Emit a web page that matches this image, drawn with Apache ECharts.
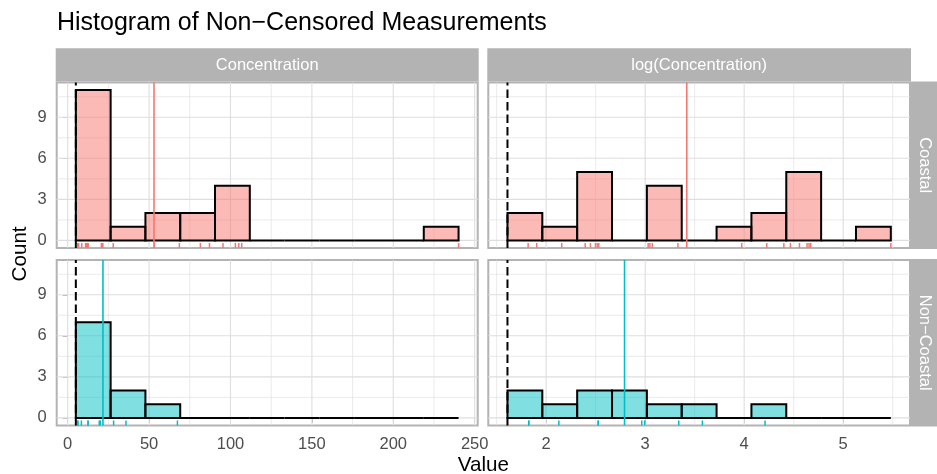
<!DOCTYPE html>
<html>
<head>
<meta charset="utf-8">
<script src="https://cdn.jsdelivr.net/npm/echarts@6/dist/echarts.min.js"></script>
<style>
  html, body { margin: 0; padding: 0; background: #ffffff; }
  #chart { width: 937px; height: 474px; }
</style>
</head>
<body>
<div id="chart"></div>
<script>
// Non-censored concentration measurements by site type
const coastal = [6.16, 6.72, 8.65, 10.96, 11.56, 12.16, 12.38, 12.58, 20.7, 21.07, 21.59, 27.97,
                 53.25, 68.6, 81.5, 87.1, 95.4, 103.0, 105.1, 106.9, 240.1];
const nonCoastal = [6.2, 6.2, 8.4, 12.5, 12.5, 19.4, 20.0, 28.2, 35.8, 67.4];
const detectionLimit = 5;
const binCount = 11;

const groupNames = ['Coastal', 'Non\u2212Coastal'];
const scaleNames = ['Concentration', 'log(Concentration)'];

const rawBreaks = [0, 50, 100, 150, 200, 250];
const rawMinorBreaks = [25, 75, 125, 175, 225];
const logBreaks = [2, 3, 4, 5];
const logMinorBreaks = [1.5, 2.5, 3.5, 4.5, 5.5];
const countBreaks = [0, 3, 6, 9];
const countMinorBreaks = [1.5, 4.5, 7.5, 10.5];

const FONT = '"Liberation Sans", Arial, Helvetica, sans-serif';
const groupColors = ['#F8766D', '#00BFC4'];
const groupFills = ['rgba(248,118,109,0.5)', 'rgba(0,191,196,0.5)'];
const GRID_COLOR = '#DEDEDE';
const FRAME_COLOR = '#B3B3B3';

// Panel layout (two columns of scales, two rows of groups)
const colLeft = [56.7, 488.3];
const colWidth = [421, 421.7];
const rowTop = [82.4, 259.9];
const rowHeight = 165.5;
const stripTop = 48.3;

const measurements = [coastal, nonCoastal];
const transforms = [v => v, v => Math.log(v)];
const majorBreaks = [rawBreaks, logBreaks];
const minorBreaks = [rawMinorBreaks, logMinorBreaks];
const hiRaw = Math.max(...coastal, ...nonCoastal);

function histogram(values, lo, hi) {
  const w = (hi - lo) / binCount;
  const counts = new Array(binCount).fill(0);
  values.forEach(v => {
    let i = Math.ceil((v - lo) / w) - 1;
    if (i < 0) i = 0;
    if (i >= binCount) i = binCount - 1;
    counts[i]++;
  });
  return counts.map((c, i) => [lo + i * w, lo + (i + 1) * w, c]);
}

const mean = arr => arr.reduce((s, v) => s + v, 0) / arr.length;

// Per-column x ranges: detection limit to the largest value, padded by 5%
const colRange = [0, 1].map(c => {
  const lo = transforms[c](detectionLimit);
  const hi = transforms[c](hiRaw);
  const pad = (hi - lo) * 0.05;
  return { lo, hi, min: lo - pad, max: hi + pad };
});

const panels = [];
for (let r = 0; r < 2; r++) {
  for (let c = 0; c < 2; c++) {
    const vals = measurements[r].map(transforms[c]);
    panels.push({
      r, c,
      bins: histogram(vals, colRange[c].lo, colRange[c].hi),
      rug: vals,
      mean: mean(vals),
      limit: transforms[c](detectionLimit)
    });
  }
}
const maxCount = Math.max(...panels.map(p => Math.max(...p.bins.map(b => b[2]))));
const yMin = -0.05 * maxCount;
const yMax = maxCount * 1.05;

const grids = [], xAxes = [], yAxes = [], series = [];

panels.forEach((p, gi) => {
  const { r, c } = p;
  grids.push({
    left: colLeft[c], top: rowTop[r], width: colWidth[c], height: rowHeight,
    show: true, borderColor: FRAME_COLOR, borderWidth: 2, backgroundColor: 'transparent'
  });
  xAxes.push({
    gridIndex: gi, type: 'value', min: colRange[c].min, max: colRange[c].max,
    axisLine: { show: false },
    splitLine: { show: false },
    axisTick: { show: r === 1, customValues: majorBreaks[c], length: 5, lineStyle: { color: FRAME_COLOR, width: 1 } },
    axisLabel: { show: r === 1, customValues: majorBreaks[c], color: '#4D4D4D', fontSize: 16.5, fontFamily: FONT, margin: 11 }
  });
  yAxes.push({
    gridIndex: gi, type: 'value', min: yMin, max: yMax,
    axisLine: { show: false },
    splitLine: { show: false },
    axisTick: { show: c === 0, customValues: countBreaks, length: 5, lineStyle: { color: FRAME_COLOR, width: 1 } },
    axisLabel: { show: c === 0, customValues: countBreaks, color: '#4D4D4D', fontSize: 16.5, fontFamily: FONT, margin: 10 }
  });

  // grid lines: [value, 0 = vertical / 1 = horizontal, 1 = major]
  const gridData = [];
  minorBreaks[c].forEach(v => gridData.push([v, 0, 0]));
  countMinorBreaks.forEach(v => gridData.push([v, 1, 0]));
  majorBreaks[c].forEach(v => gridData.push([v, 0, 1]));
  countBreaks.forEach(v => gridData.push([v, 1, 1]));
  series.push({
    type: 'custom', xAxisIndex: gi, yAxisIndex: gi, silent: true, z: 1,
    data: gridData,
    renderItem(params, api) {
      const cs = params.coordSys;
      const v = api.value(0);
      const horizontal = api.value(1) === 1;
      const major = api.value(2) === 1;
      let shape;
      if (!horizontal) {
        const x = api.coord([v, 0])[0];
        if (x < cs.x || x > cs.x + cs.width) return null;
        shape = { x1: x, y1: cs.y, x2: x, y2: cs.y + cs.height };
      } else {
        const y = api.coord([colRange[c].lo, v])[1];
        shape = { x1: cs.x, y1: y, x2: cs.x + cs.width, y2: y };
      }
      return { type: 'line', shape, style: { stroke: GRID_COLOR, lineWidth: major ? 1.1 : 0.6 } };
    }
  });

  // histogram bars
  series.push({
    type: 'custom', xAxisIndex: gi, yAxisIndex: gi, silent: true, z: 3,
    data: p.bins,
    encode: { x: [0, 1], y: 2 },
    renderItem(params, api) {
      const a = api.coord([api.value(0), api.value(2)]);
      const b = api.coord([api.value(1), 0]);
      return {
        type: 'rect',
        shape: { x: a[0], y: a[1], width: b[0] - a[0], height: b[1] - a[1] },
        style: { fill: groupFills[r], stroke: '#000000', lineWidth: 2, lineJoin: 'miter' }
      };
    }
  });

  // rug along the bottom of the panel
  series.push({
    type: 'custom', xAxisIndex: gi, yAxisIndex: gi, silent: true, z: 4,
    data: p.rug.map(v => [v, 0]),
    renderItem(params, api) {
      const cs = params.coordSys;
      const x = api.coord([api.value(0), 0])[0];
      const y2 = cs.y + cs.height;
      return {
        type: 'line',
        shape: { x1: x, y1: y2, x2: x, y2: y2 - cs.height * 0.03 },
        style: { stroke: groupColors[r], lineWidth: 1.5 }
      };
    }
  });

  // mean line (group colour) and detection limit (dashed)
  series.push({
    type: 'custom', xAxisIndex: gi, yAxisIndex: gi, silent: true, z: 5,
    data: [[p.mean, 0], [p.limit, 1]],
    renderItem(params, api) {
      const cs = params.coordSys;
      const x = api.coord([api.value(0), 0])[0];
      const dashed = api.value(1) === 1;
      return {
        type: 'line',
        shape: { x1: x, y1: cs.y + cs.height, x2: x, y2: cs.y },
        style: dashed
          ? { stroke: '#000000', lineWidth: 2, lineDash: [8.3, 4.2] }
          : { stroke: groupColors[r], lineWidth: 1.6 }
      };
    }
  });
});

// strips, titles
const graphics = [];
graphics.push({
  type: 'text', x: 57, y: 23.3,
  style: { text: 'Histogram of Non\u2212Censored Measurements', font: '25px ' + FONT, fill: '#000000', verticalAlign: 'middle' }
});
[0, 1].forEach(c => {
  graphics.push({
    type: 'rect', shape: { x: colLeft[c] - 1, y: stripTop, width: colWidth[c] + 2, height: rowTop[0] - stripTop - 1 },
    style: { fill: FRAME_COLOR }
  });
  graphics.push({
    type: 'text', x: colLeft[c] + colWidth[c] / 2, y: 65.9,
    style: { text: scaleNames[c], font: '16.5px ' + FONT, fill: '#FFFFFF', align: 'center', verticalAlign: 'middle' }
  });
});
[0, 1].forEach(r => {
  const x0 = colLeft[1] + colWidth[1] + 1;
  graphics.push({
    type: 'rect', shape: { x: x0, y: rowTop[r] - 1, width: 40, height: rowHeight + 2 },
    style: { fill: FRAME_COLOR }
  });
  graphics.push({
    type: 'text', x: 924.6, y: rowTop[r] + rowHeight / 2, rotation: -Math.PI / 2,
    style: { text: groupNames[r], font: '16.5px ' + FONT, fill: '#FFFFFF', align: 'center', verticalAlign: 'middle' }
  });
});
graphics.push({
  type: 'text', x: 20.3, y: (rowTop[0] + rowTop[1] + rowHeight) / 2, rotation: Math.PI / 2,
  style: { text: 'Count', font: '20.6px ' + FONT, fill: '#000000', align: 'center', verticalAlign: 'middle' }
});
graphics.push({
  type: 'text', x: (colLeft[0] + colLeft[1] + colWidth[1]) / 2, y: 465.5,
  style: { text: 'Value', font: '20.6px ' + FONT, fill: '#000000', align: 'center', verticalAlign: 'middle' }
});

const chart = echarts.init(document.getElementById('chart'), null, { renderer: 'canvas' });
chart.setOption({
  animation: false,
  backgroundColor: '#ffffff',
  textStyle: { fontFamily: FONT },
  grid: grids,
  xAxis: xAxes,
  yAxis: yAxes,
  series: series,
  graphic: graphics
});
</script>
</body>
</html>
